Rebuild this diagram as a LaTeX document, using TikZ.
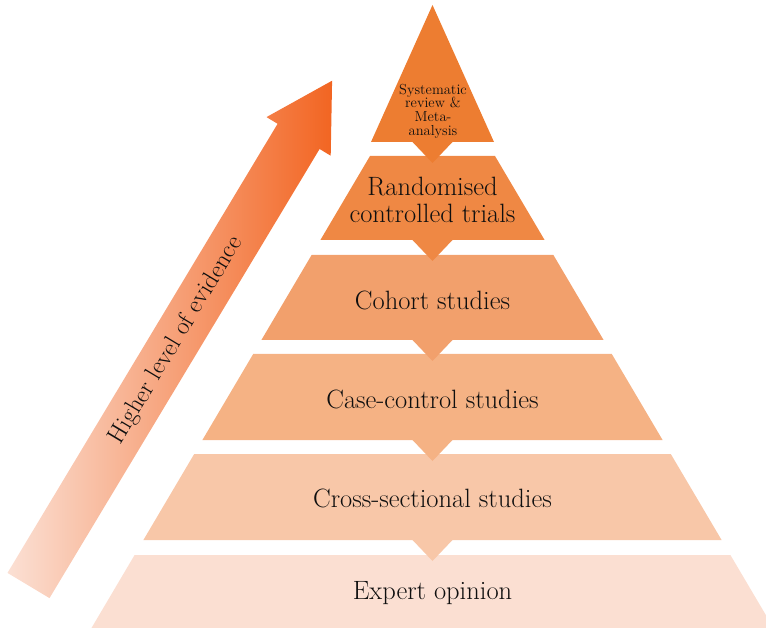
\documentclass[tikz,border=0pt]{standalone}
\usetikzlibrary{shapes.geometric}
\definecolor{cTri}{RGB}{237,125,49}
\definecolor{cL2}{RGB}{239,136,68}
\definecolor{cL3}{RGB}{242,160,108}
\definecolor{cL4}{RGB}{245,178,132}
\definecolor{cL5}{RGB}{248,199,168}
\definecolor{cL6}{RGB}{251,223,210}
\definecolor{cArrL}{RGB}{251,224,212}
\definecolor{cArrR}{RGB}{242,101,34}
\definecolor{cText}{RGB}{15,15,15}
\tikzset{
  layer/.style={draw=none},
  lbl/.style={align=center, text=cText, inner sep=0pt, font=\fontsize{26.5}{27}\selectfont},
  arrlbl/.style={text=cText, inner sep=0pt, font=\fontsize{25}{27}\selectfont},
  toplbl/.style={align=center, text=cText, inner sep=0pt, font=\fontsize{14.5}{13.6}\selectfont},
}
\begin{document}
\begin{tikzpicture}[x=1pt,y=-1pt]
\path[use as bounding box] (0,0) rectangle (766,628);
\clip (0,0) rectangle (766,628);
% bottom layer first so that notches of upper layers overlap
\fill[layer, fill=cL6] (134.6,555) -- (730.4,555) -- (780.6,640) -- (84.4,640) -- cycle;
\fill[layer, fill=cL5] (194.2,454) -- (670.8,454) -- (721.6,540) -- (452.5,540) -- (432.5,561) -- (412.5,540) -- (143.4,540) -- cycle;
\fill[layer, fill=cL4] (253.2,354) -- (611.8,354) -- (662.6,440) -- (452.5,440) -- (432.5,461) -- (412.5,440) -- (202.4,440) -- cycle;
\fill[layer, fill=cL3] (311.6,255) -- (553.4,255) -- (603.6,340) -- (452.5,340) -- (432.5,361) -- (412.5,340) -- (261.4,340) -- cycle;
\fill[layer, fill=cL2] (370,156) -- (495,156) -- (544.6,240) -- (452.5,240) -- (432.5,261) -- (412.5,240) -- (320.4,240) -- cycle;
\fill[layer, fill=cTri] (432.5,5) -- (494,142) -- (452.5,142) -- (432.5,163) -- (412.5,142) -- (371,142) -- cycle;
% arrow
\shade[left color=cArrL, right color=cArrR]
  (7.5,572.9) -- (277.6,123.8) -- (266.5,117.1) -- (332.1,80.7) -- (330.7,155.7) -- (319.6,149.0) -- (49.5,598.1) -- cycle;
\node[arrlbl, rotate=59] (arrowlbl) at (176,340.4) {Higher level of evidence};
% labels
\node[toplbl] (meta) at (433,111) {Systematic\\review \&\\Meta-\\analysis};
\node[lbl] (rct) at (432.5,200) {Randomised\\controlled trials};
\node[lbl] (cohort) at (432.5,300) {Cohort studies};
\node[lbl] (casecontrol) at (432.5,399) {Case-control studies};
\node[lbl] (cross) at (432.5,498) {Cross-sectional studies};
\node[lbl] (expert) at (432.5,593) {Expert opinion};
\end{tikzpicture}
\end{document}
